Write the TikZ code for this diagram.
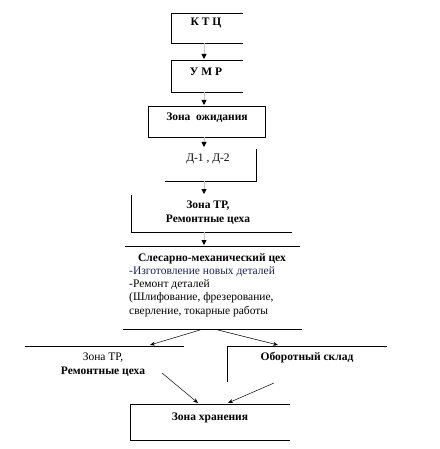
\documentclass[tikz,border=0pt]{standalone}
\usepackage{fontspec}
\setmainfont{Liberation Serif}
\usetikzlibrary{arrows.meta}
\begin{document}
\begin{tikzpicture}[x=1pt,y=-1pt,
  edge/.style={line width=0.8pt},
  lbl/.style={font=\bfseries\fontsize{11.5}{14}\selectfont, inner sep=0pt, align=center},
  reg/.style={font=\fontsize{11.5}{14}\selectfont},
  txt/.style={font=\fontsize{11.5}{14}\selectfont, inner sep=0pt, anchor=west},
  flow/.style={draw=gray!45, line width=0.8pt, -{Triangle[length=5pt,width=5pt,color=black]}},
  diag/.style={draw=black, line width=0.5pt, -{Stealth[length=5pt,width=4pt]}}]
\useasboundingbox[fill=white] (0,0) rectangle (439,449);

% box 1
\draw[edge] (243,13) -- (171,13) -- (171,43) -- (243,43);
\node[lbl] (ktc) at (206,23) {К Т Ц};
\coordinate (ktcb) at (204,43);
\coordinate (umrt) at (204,59);
% box 2
\draw[edge] (243,60) -- (171,60) -- (171,92) -- (243,92);
\node[lbl] (umr) at (206,72) {У М Р};
\coordinate (umrb) at (204,92);
\coordinate (zot) at (204,105);
% box 3
\draw[edge] (148,106) rectangle (265,137);
\node[lbl] (zo) at (207,118) {Зона\ \ ожидания};
\coordinate (zob) at (204,137);
\coordinate (dt) at (204,147);
% box 4
\draw[edge] (256,149) -- (256,181) -- (165,181);
\node[lbl, reg] (d) at (208,159) {Д-1 , Д-2};
\coordinate (db) at (204,181);
\coordinate (trt) at (204,194);
% box 5
\draw[edge] (131,195) -- (131,232) -- (292,232);
\node[lbl] (tr) at (208,213) {Зона ТР,\\ Ремонтные цеха};
\coordinate (trb) at (204,232);
\coordinate (smt) at (204,245);
% box 6
\draw[edge] (125,246) -- (300,246);
\draw[edge] (123,329) -- (302,329);
\node[lbl] (sm) at (212,259) {Слесарно-механический цех};
\node[txt, text={rgb,255:red,30;green,35;blue,85}] (sm1) at (129,272) {-Изготовление новых деталей};
\node[txt] (sm2) at (129,285) {-Ремонт деталей};
\node[txt] (sm3) at (129,298) {(Шлифование, фрезерование,};
\node[txt] (sm4) at (129,312) {сверление, токарные работы};
\coordinate (sml) at (200,330);
\coordinate (smr) at (218,330);
\coordinate (trlt) at (150,345);
\coordinate (obt) at (278,345);
% box 7
\draw[edge] (25,346) -- (184,346);
\node[lbl, reg] (trl1) at (103,358) {Зона ТР,};
\node[lbl] (trl2) at (103,372) {Ремонтные цеха};
\coordinate (trlb) at (162,373);
% box 8
\draw[edge] (387,346) -- (227,346) -- (227,382);
\node[lbl] (ob) at (307,358) {Оборотный склад};
\coordinate (obb) at (274,383);
% box 9
\draw[edge] (290,404) -- (130,404) -- (130,440) -- (290,440);
\node[lbl] (zh) at (210,418) {Зона хранения};
\coordinate (zhl) at (198,403);
\coordinate (zhr) at (228,403);

% connectors
\draw[flow] (ktcb) -- (umrt);
\draw[flow] (umrb) -- (zot);
\draw[flow] (zob) -- (dt);
\draw[flow] (db) -- (trt);
\draw[flow] (trb) -- (smt);
\draw[diag] (sml) -- (trlt);
\draw[diag] (smr) -- (obt);
\draw[diag] (trlb) -- (zhl);
\draw[diag] (obb) -- (zhr);
\end{tikzpicture}
\end{document}
